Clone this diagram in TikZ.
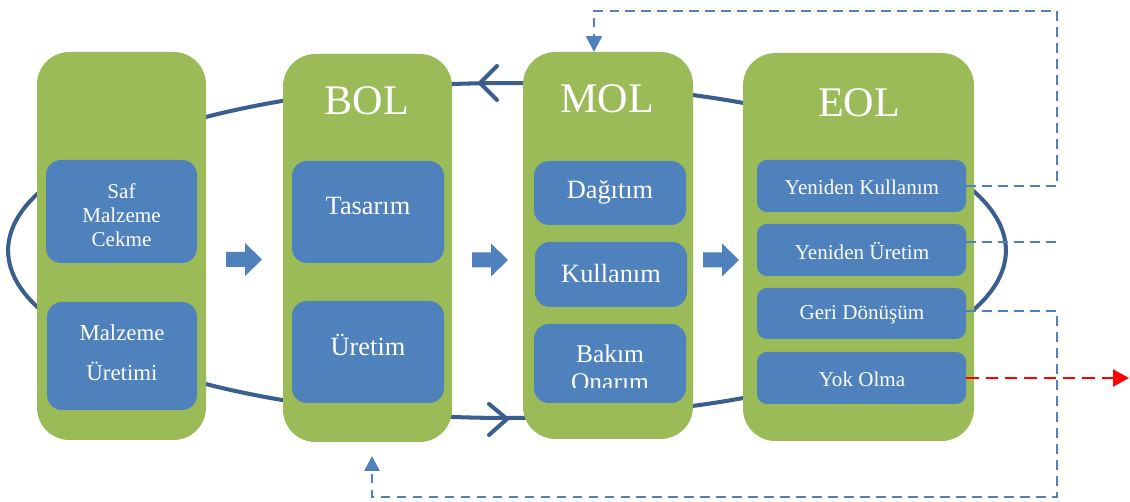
\documentclass[tikz,border=0pt]{standalone}
\usepackage{fontspec}
\setmainfont{Liberation Serif}
\usetikzlibrary{fit,arrows.meta}
\definecolor{colgreen}{HTML}{9BBB59}
\definecolor{boxblue}{HTML}{4F81BD}
\definecolor{loopblue}{HTML}{3A5F8E}
\definecolor{dashcol}{HTML}{4F81BD}
\tikzset{
  colbox/.style={fill=colgreen, draw=none, rounded corners=0.65cm, inner sep=0pt},
  subbox/.style={fill=boxblue, draw=none, rounded corners=0.3cm, inner sep=0pt},
  eolbox/.style={fill=boxblue, draw=none, rounded corners=0.2cm, inner sep=0pt},
  titletext/.style={text=white, font=\fontsize{24}{28}\selectfont, inner sep=0pt},
  bigtext/.style={text=white, font=\fontsize{15}{18}\selectfont, inner sep=0pt, align=center},
  smalltext/.style={text=white, font=\fontsize{12}{13.6}\selectfont, inner sep=0pt, align=center},
  looppath/.style={draw=loopblue, line width=2.3pt},
  chevron/.style={draw=loopblue, line width=2.3pt, line cap=round, line join=round},
  blockarrow/.style={fill=boxblue, draw=none},
  dashline/.style={draw=dashcol, line width=1.4pt, dash pattern=on 5.5pt off 3.6pt},
  redline/.style={draw=red, line width=1.4pt, dash pattern=on 7pt off 4pt},
}
\newcommand{\blockarr}[2]{%
  \fill[blockarrow] (#1,#2-7.5) -- (#1+19,#2-7.5) -- (#1+19,#2-16.5) -- (#1+36,#2) -- (#1+19,#2+16.5) -- (#1+19,#2+7.5) -- (#1,#2+7.5) -- cycle;}
\begin{document}
\begin{tikzpicture}[x=0.02cm,y=-0.02cm]
\useasboundingbox (0,0) rectangle (1130,502);
% big loop
\draw[looppath] (507,250.5) ellipse [x radius=9.98cm, y radius=3.35cm];
\draw[chevron] (497,66) -- (480,83) -- (497,100);
\draw[chevron] (489,404) -- (507,419) -- (489,435);
% columns
\node[colbox, fit={(37,52)(206,440)}] (c1) {};
\node[colbox, fit={(283,54)(452,442)}] (c2) {};
\node[colbox, fit={(523,52)(693,439)}] (c3) {};
\node[colbox, fit={(743,53)(974,441)}] (c4) {};
% titles
\node[titletext] (bol) at (367,101) {BOL};
\node[titletext] (mol) at (607,99) {MOL};
\node[titletext] (eol) at (859,103) {EOL};
% column 1
\node[subbox, fit={(46,160)(197,263)}] (saf) {};
\node[smalltext] (saft) at (121.5,215) {Saf\\Malzeme\\Cekme};
\node[subbox, fit={(47,302)(197,410)}] (mu) {};
\node[text=white, font=\fontsize{13}{22.7}\selectfont, inner sep=0pt, align=center] (mut) at (122,353) {Malzeme\\Üretimi};
% column 2
\node[subbox, fit={(292,161)(444,263)}] (tas) {};
\node[bigtext] (tast) at (368,206) {Tasarım};
\node[subbox, fit={(292,301)(444,403)}] (ure) {};
\node[bigtext] (uret) at (368,345) {Üretim};
% column 3
\node[subbox, fit={(534,161)(686,225)}] (dag) {};
\node[bigtext] (dagt) at (610,192) {Dağıtım};
\node[subbox, fit={(535,242)(687,307)}] (kul) {};
\node[bigtext] (kult) at (611,273) {Kullanım};
\node[subbox, fit={(534,324)(686,403)}] (bak) {};
\node[text=white, font=\fontsize{14.5}{17}\selectfont, inner sep=0pt, anchor=base] (bakt) at (610,363) {Bakım};
\begin{scope}
\clip (534,324) rectangle (686,388);
\node[text=white, font=\fontsize{14.5}{17}\selectfont, inner sep=0pt, anchor=base] (onat) at (610,390.5) {Onarım};
\end{scope}
% column 4
\node[eolbox, fit={(757,160)(966,212)}] (yk) {};
\node[smalltext] (ykt) at (862,187) {Yeniden Kullanım};
\node[eolbox, fit={(757,224)(966,276)}] (yu) {};
\node[smalltext] (yut) at (862,251) {Yeniden Üretim};
\node[eolbox, fit={(757,288)(966,339)}] (gd) {};
\node[smalltext] (gdt) at (862,315) {Geri Dönüşüm};
\node[eolbox, fit={(757,352)(966,404)}] (yo) {};
\node[smalltext] (yot) at (862,379) {Yok Olma};
% block arrows
\blockarr{226}{259.5}
\blockarr{472}{260}
\blockarr{703}{260}
% dashed feedback lines
\coordinate (topin) at (594,52);
\coordinate (botin) at (372,456);
\coordinate (redend) at (1129,378);
\draw[dashline, -{Triangle[length=9pt,width=9pt]}] (yk.east |- 0,186) -- (1057,186) -- (1057,11) -- (594,11) -- (topin);
\draw[dashline] (yu.east |- 0,242) -- (1057,242);
\draw[dashline, -{Triangle[length=8.5pt,width=8.5pt]}] (gd.east |- 0,311) -- (1057,311) -- (1057,497) -- (372,497) -- (botin);
\draw[redline, -{Triangle[length=9pt,width=9.5pt]}] (yo.east |- 0,378) -- (redend);
\end{tikzpicture}
\end{document}
